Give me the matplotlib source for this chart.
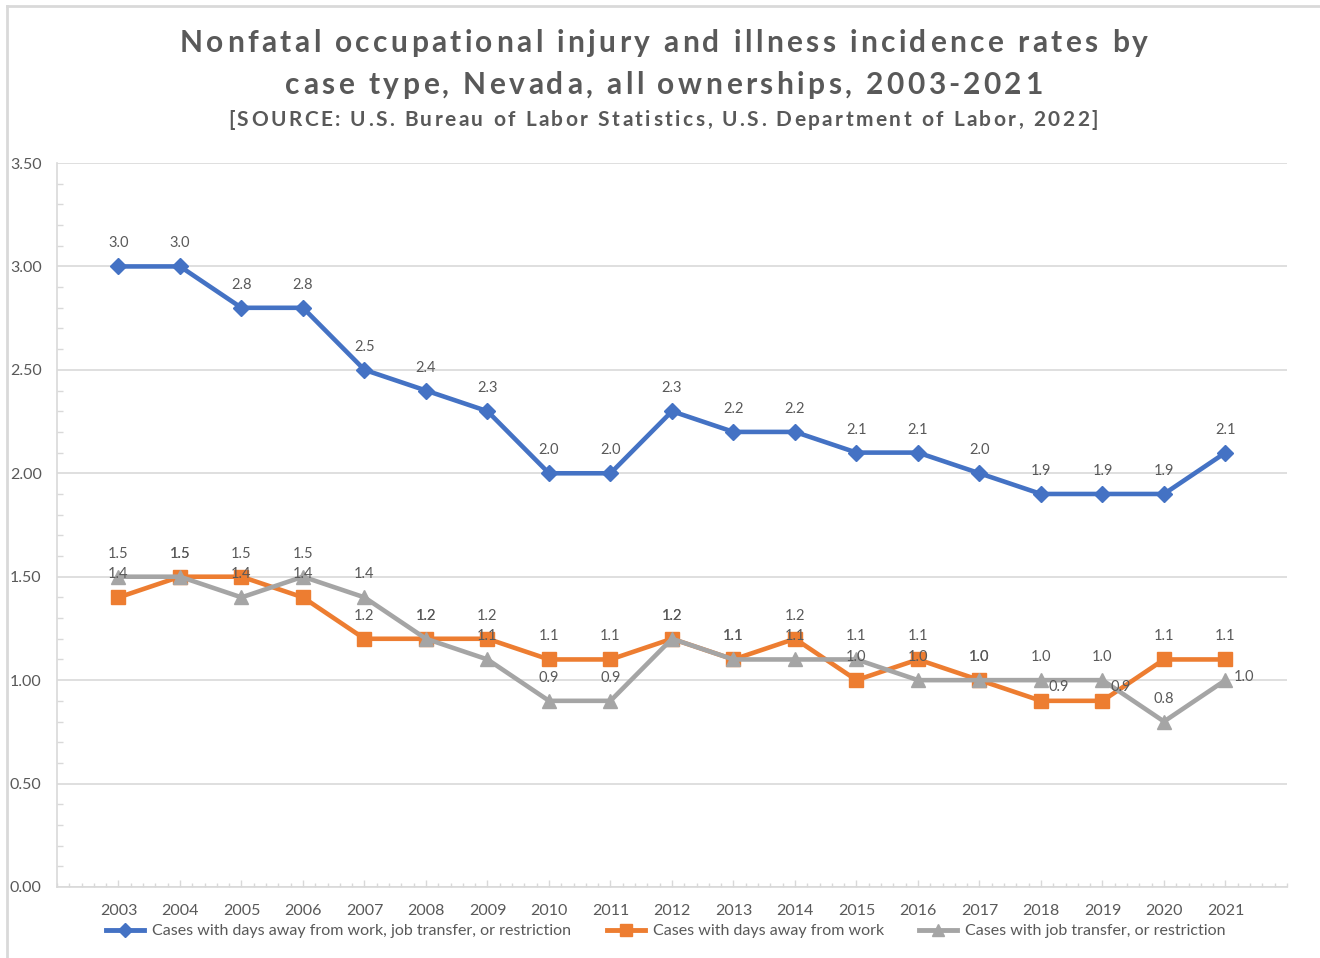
import matplotlib
matplotlib.use("Agg")
import matplotlib.pyplot as plt
from matplotlib.ticker import MultipleLocator, FixedLocator
from matplotlib.lines import Line2D

years = list(range(2003, 2022))
total_cases = [3.0, 3.0, 2.8, 2.8, 2.5, 2.4, 2.3, 2.0, 2.0, 2.3, 2.2, 2.2, 2.1, 2.1, 2.0, 1.9, 1.9, 1.9, 2.1]
days_away = [1.4, 1.5, 1.5, 1.4, 1.2, 1.2, 1.2, 1.1, 1.1, 1.2, 1.1, 1.2, 1.0, 1.1, 1.0, 0.9, 0.9, 1.1, 1.1]
job_transfer = [1.5, 1.5, 1.4, 1.5, 1.4, 1.2, 1.1, 0.9, 0.9, 1.2, 1.1, 1.1, 1.1, 1.0, 1.0, 1.0, 1.0, 0.8, 1.0]
series_names = ["Cases with days away from work, job transfer, or restriction",
                "Cases with days away from work",
                "Cases with job transfer, or restriction"]
yticks = [0.0, 0.5, 1.0, 1.5, 2.0, 2.5, 3.0, 3.5]

title1 = "Nonfatal occupational injury and illness incidence rates by"
title2 = "case type, Nevada, all ownerships, 2003-2021"
subtitle = "[SOURCE: U.S. Bureau of Labor Statistics, U.S. Department of Labor, 2022]"

plt.rcParams['font.family'] = ['Lato', 'DejaVu Sans']
TXT = '#595959'
GRID = '#D9D9D9'
colors = ['#4472C4', '#ED7D31', '#A5A5A5']
markers = ['D', 's', '^']
msizes = [8, 10, 10]

W, H = 1320, 958
fig = plt.figure(figsize=(W / 100, H / 100), dpi=100)
renderer = fig.canvas.get_renderer()
ax = fig.add_axes([57/W, 1-887/H, (1287-57)/W, (887-163)/H])

data = [total_cases, days_away, job_transfer]
for vals, c, m, ms, name in zip(data, colors, markers, msizes, series_names):
    ax.plot(years, vals, color=c, lw=3.3, marker=m, markersize=ms, label=name,
            solid_joinstyle='round', zorder=3)

# data labels (default above; a few to the right)
right_offsets = {(1, 2018): (8, 14), (1, 2019): (8, 14), (2, 2021): (8, 3)}
for si, vals in enumerate(data):
    for x, v in zip(years, vals):
        if (si, x) in right_offsets:
            dx, dy = right_offsets[(si, x)]
            ax.annotate(f"{v:.1f}", (x, v), xytext=(dx, dy), textcoords='offset pixels',
                        ha='left', va='center', fontsize=10.5, color=TXT, zorder=5)
        else:
            ax.annotate(f"{v:.1f}", (x, v), xytext=(0, 23), textcoords='offset pixels',
                        ha='center', va='center', fontsize=10.5, color=TXT, zorder=5)

ax.set_xlim(2002, 2022)
ax.set_ylim(0, 3.5)
ax.set_yticks(yticks)
ax.set_yticklabels([f"{t:.2f}" for t in yticks])
ax.yaxis.set_minor_locator(MultipleLocator(0.1))
ax.set_xticks(years)
ax.set_xticklabels([str(y) for y in years])
ax.xaxis.set_minor_locator(FixedLocator([2002 + 0.2 * i for i in range(101)]))
ax.grid(axis='y', which='major', color=GRID, lw=1.2, zorder=0)
ax.tick_params(axis='y', which='major', length=0, pad=(57 - 10) * 0.72, labelsize=11.5,
               labelcolor=TXT)
ax.tick_params(axis='y', which='minor', direction='in', length=4, color=GRID, width=1)
ax.tick_params(axis='x', which='major', direction='in', length=5, color=GRID, width=1,
               pad=12, labelsize=11.5, labelcolor=TXT)
ax.tick_params(axis='x', which='minor', direction='in', length=3, color=GRID, width=1)
for s in ['top', 'right']:
    ax.spines[s].set_visible(False)
for s in ['left', 'bottom']:
    ax.spines[s].set_color(GRID)
    ax.spines[s].set_linewidth(1.2)
for t in ax.get_yticklabels():
    t.set_horizontalalignment('left')

# legend
handles = [Line2D([0], [0], color=c, lw=3.5, marker=m, markersize=ms - 1)
           for c, m, ms in zip(colors, markers, msizes)]
fig.legend(handles, series_names, loc='center', bbox_to_anchor=(666/W, 1-931/H),
           ncol=3, frameon=False, fontsize=11.5, labelcolor=TXT, handlelength=2.4,
           handletextpad=0.5, columnspacing=2.2)


# letter-spaced title text
def char_widths(s, size):
    ref = fig.text(0, 0, "HH", fontsize=size, fontweight='bold')
    base = ref.get_window_extent(renderer).width
    ref.remove()
    out = []
    for ch in s:
        t = fig.text(0, 0, "H" + ch + "H", fontsize=size, fontweight='bold')
        out.append(t.get_window_extent(renderer).width - base)
        t.remove()
    return out


def spacing_for(s, size, target):
    w = char_widths(s, size)
    return (target - sum(w)) / (len(s) - 1)


def spaced_text(s, xc, y, size, spacing):
    w = char_widths(s, size)
    total = sum(w) + spacing * (len(s) - 1)
    x = xc - total / 2
    for ch, cw in zip(s, w):
        fig.text(x / W, 1 - y / H, ch, ha='left', va='center', fontsize=size,
                 fontweight='bold', color=TXT)
        x += cw + spacing


tsize = 21.5
sp = spacing_for(title1, tsize, 1148 - 180)
spaced_text(title1, 664, 43, tsize, sp)
spaced_text(title2, 664, 85, tsize, sp)
ssize = 15
sp2 = spacing_for(subtitle, ssize, 1098 - 228)
spaced_text(subtitle, 663, 120, ssize, sp2)

# chart border (left and top edges visible)
fig.add_artist(Line2D([7/W, 7/W], [0, 1-6/H], color=GRID, lw=2, transform=fig.transFigure))
fig.add_artist(Line2D([7/W, 1], [1-6/H, 1-6/H], color=GRID, lw=2, transform=fig.transFigure))

fig.savefig("out.png", dpi=100)
